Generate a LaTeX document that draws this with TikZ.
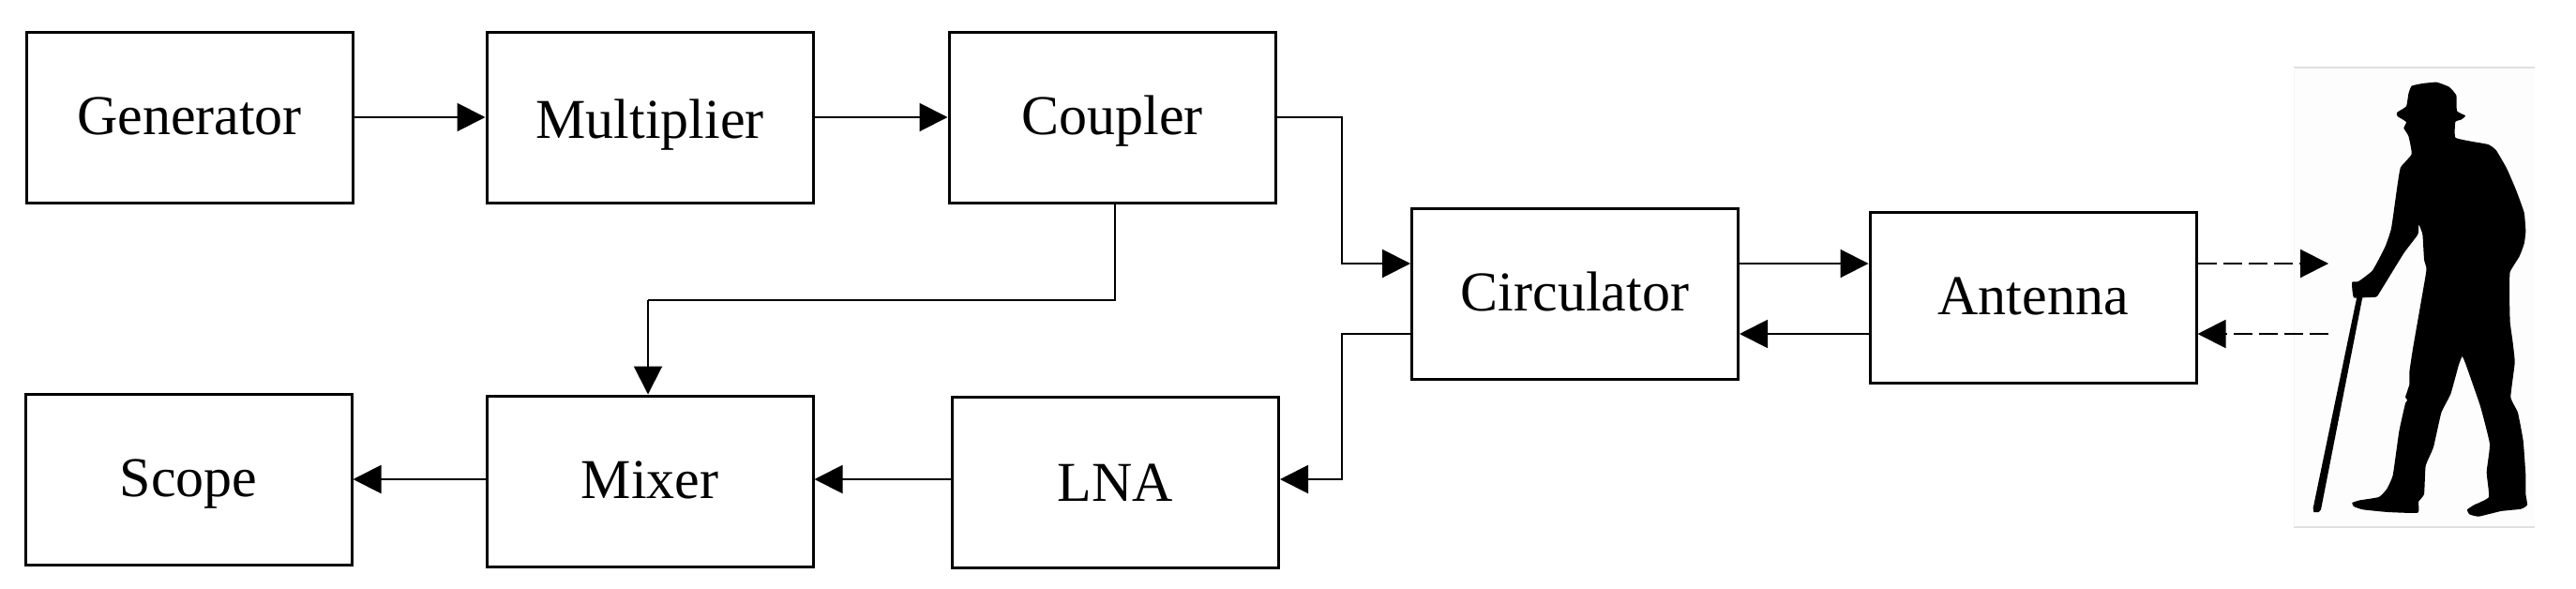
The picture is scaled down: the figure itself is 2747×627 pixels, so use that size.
\documentclass[tikz,border=0pt]{standalone}
\usepackage{fontspec}
\setmainfont{Liberation Serif}
\usetikzlibrary{arrows.meta}
\definecolor{framegray}{RGB}{224,224,224}
\definecolor{photowhite}{RGB}{253,253,253}
\tikzset{
    blk/.style={draw,line width=1.5pt,minimum width=174pt,minimum height=91pt,inner sep=0pt,
        font=\fontsize{30}{36}\selectfont,text height=18pt,text depth=0pt},
    conn/.style={line width=1pt,-{Triangle[length=15pt,width=15pt]}},
    wire/.style={line width=1pt},
    wave/.style={conn,dash pattern=on 10pt off 3.5pt},
}
\begin{document}
\begin{tikzpicture}[x=.5pt,y=-.5pt]
    \useasboundingbox (0,0) rectangle (2747,627);

    % photo behind the walker
    \fill[photowhite] (2446,72) rectangle (2703,562);
    \draw[framegray,line width=1pt] (2446,72) -- (2703,72);
    \draw[framegray,line width=1pt] (2446,562) -- (2703,562);
    \draw[photowhite!97!black,line width=.5pt] (2446,72) -- (2446,562);

    \node[blk] (gen) at (202,125) {Generator};
    \node[blk,text height=22pt] (mult) at (693,125) {Multiplier};
    \node[blk] (coup) at (1186,125) {Coupler};
    \node[blk] (circ) at (1679.5,313) {Circulator};
    \node[blk] (ant) at (2168,317) {Antenna};
    \node[blk] (scp) at (201,511) {Scope};
    \node[blk] (mix) at (693,513) {Mixer};
    \node[blk,text height=20pt] (lna) at (1189.5,514) {LNA};

    \coordinate (tx) at (1431,281);
    \coordinate (rx) at (1431,356);
    \coordinate (mid) at (1189,320);
    \coordinate (drop) at (691,320);
    \coordinate (low) at (1000,511);
    \coordinate (txend) at (2483,281);
    \coordinate (rxend) at (2483,356);

    \draw[conn] (gen) -- (mult);
    \draw[conn] (mult) -- (coup);
    \draw[conn] (coup.east) -| (tx) -- (tx -| circ.west);
    \draw[wire] (mid |- coup.south) -- (mid) -- (drop);
    \draw[conn] (drop) -- (drop |- mix.north);
    \draw[conn] (tx -| circ.east) -- (tx -| ant.west);
    \draw[conn] (rx -| ant.west) -- (rx -| circ.east);
    \draw[conn] (rx -| circ.west) -- (rx) |- (low -| lna.east);
    \draw[conn] (low -| lna.west) -- (low -| mix.east);
    \draw[conn] (low -| mix.west) -- (low -| scp.east);
    \draw[wave] (tx -| ant.east) -- (txend);
    \draw[wave] (rxend) -- (rx -| ant.east);

    % walker, traced in crop units
    \begin{scope}[shift={(2480,70)},x=.16667pt,y=-.16667pt]
    \fill[black] plot[smooth cycle,tension=.25] coordinates {
        (265,90) (275,65) (310,57) (355,53) (395,68) (418,95) (420,145) (447,160) (435,172)
        (415,180) (415,230) (470,243) (520,252) (545,270) (580,330) (610,400) (635,470)
        (640,530) (635,570) (620,610) (590,660) (588,730) (590,820) (598,880) (605,950)
        (592,1060) (615,1110) (632,1200) (640,1310) (640,1370) (645,1405) (625,1418)
        (560,1425) (490,1442) (460,1435) (453,1420) (475,1405) (522,1380) (515,1300)
        (525,1210) (495,1090) (450,960) (437,930) (425,960) (400,1050) (370,1110)
        (345,1220) (320,1280) (315,1370) (297,1395) (295,1430) (200,1428) (120,1420)
        (90,1410) (85,1398) (110,1390) (170,1380) (195,1355) (215,1310) (235,1170)
        (255,1080) (262,1070) (255,1060) (268,1020) (268,980) (280,900) (320,670) (322,645)
        (315,620) (310,540) (298,508) (295,540) (250,600) (170,730) (160,740) (115,742)
        (90,742) (85,715) (85,692) (105,690) (150,655) (190,580) (210,520) (230,380)
        (240,325) (275,283) (265,225) (250,200) (258,180) (230,162) (228,150) (258,130)};
    \fill[black] (100,740) -- (118,740) -- (-15,1420) -- (-22,1428) -- (-38,1428)
        -- (-40,1415) -- cycle;
    \end{scope}
\end{tikzpicture}
\end{document}
